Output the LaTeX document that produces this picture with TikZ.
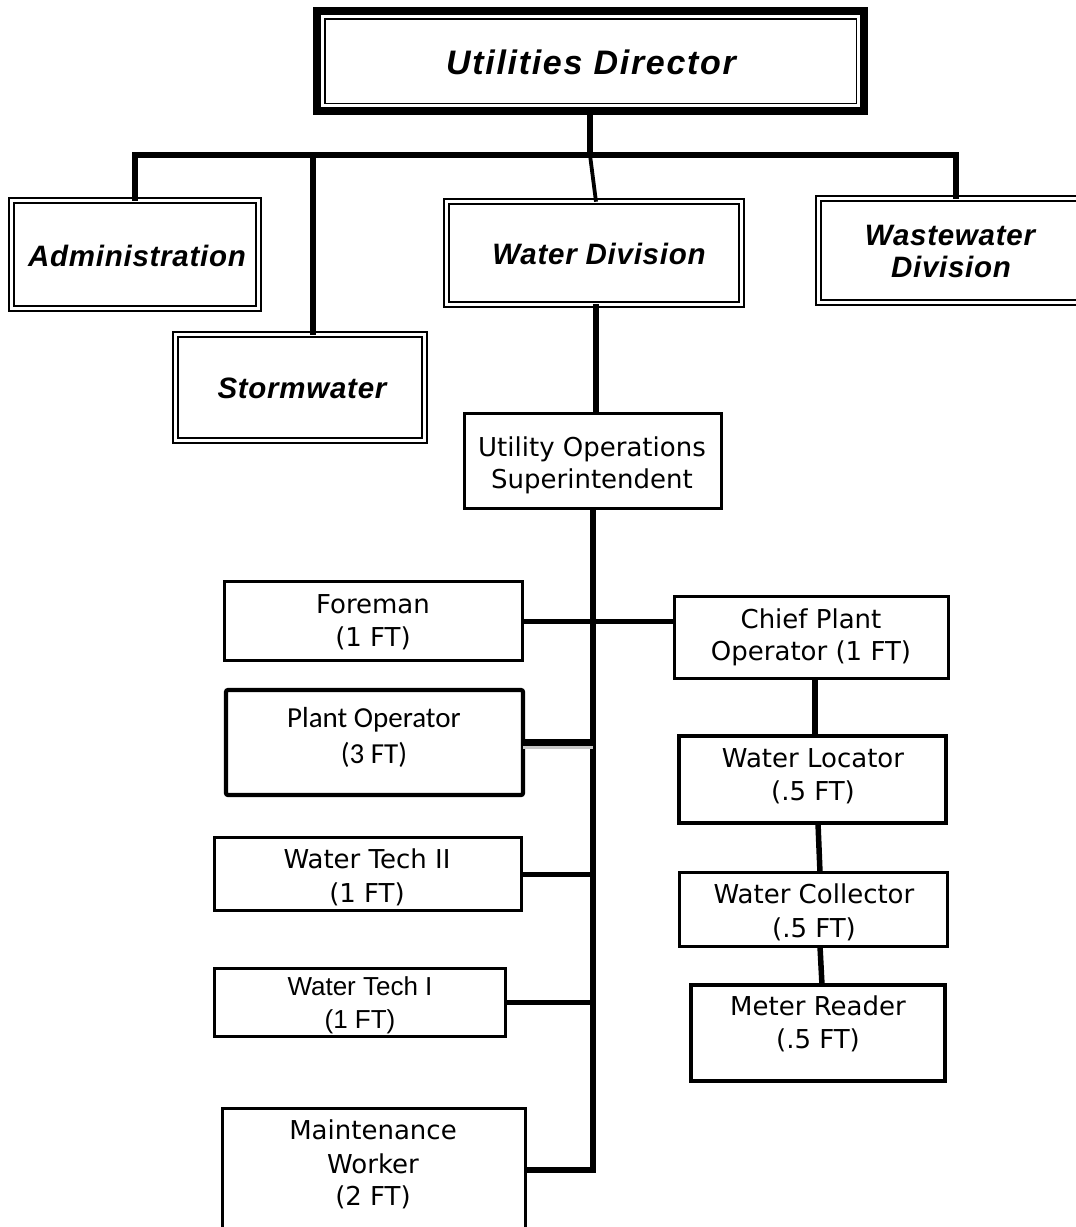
\documentclass[tikz,border=0pt]{standalone}
\usepackage{fontspec}
\setmainfont{DejaVu Sans}
\newfontfamily\headfont{Liberation Sans}[LetterSpace=2.5]
\newfontfamily\topfont{Liberation Sans}[LetterSpace=5]
\newfontfamily\calfont{Carlito}
\newfontfamily\arialfont{Liberation Sans}

% box from the centre line of its border: style, name, x1, y1, x2, y2
\newcommand\orgbox[6]{%
  \node[#1, minimum width={(#5-#3)*1pt}, minimum height={(#6-#4)*1pt}]
    (#2) at ({(#3+#5)/2},{(#4+#6)/2}) {};}

\begin{document}
\begin{tikzpicture}[x=1pt,y=-1pt,
  every node/.style={inner sep=0pt, outer sep=0pt},
  dbox/.style={draw, line width=2.5pt, double, double distance=2.5pt},
  pbox/.style={draw, line width=3.4pt},
  head/.style={font=\headfont\bfseries\itshape\fontsize{29.5}{34}\selectfont, anchor=base},
  lbl/.style={font=\fontsize{26}{32}\selectfont, anchor=base},
  link/.style={line width=5.5pt},
  thinlink/.style={line width=5pt},
  spine/.style={line width=6.5pt},
]
\path[use as bounding box, fill=white] (0,0) rectangle (1076,1227);
\clip (0,0) rectangle (1076,1227);

% ---- boxes ----
\orgbox{draw, line width=8pt}{dir}{317}{11}{864}{111}
\draw[line width=1.5pt] ([xshift=7.75pt,yshift=-7.75pt]dir.north west)
  rectangle ([xshift=-7.75pt,yshift=7.75pt]dir.south east);

\orgbox{dbox}{adm}{11.7}{200.7}{258.3}{308.3}
\orgbox{dbox}{storm}{175.7}{334.7}{424.3}{440.3}
\orgbox{dbox}{wd}{446.7}{201.7}{741.3}{304.3}
\orgbox{dbox}{ww}{818.7}{198.7}{1086.3}{302.3}

\orgbox{pbox}{uos}{464.7}{413.7}{721.3}{508.3}
\orgbox{pbox}{fore}{224.7}{581.7}{522.3}{660.3}
\orgbox{pbox, line width=4.2pt, rounded corners=2pt}{po}{226}{690}{523}{795}
\orgbox{pbox}{wt2}{214.7}{837.7}{521.3}{910.3}
\orgbox{pbox}{wt1}{214.7}{968.7}{505.3}{1036.3}
\orgbox{pbox}{mw}{222.7}{1108.7}{525.3}{1245}
\orgbox{pbox}{chief}{674.7}{596.7}{948.3}{678.3}
\orgbox{pbox, line width=3.8pt}{loc}{678.9}{735.9}{946.1}{823.1}
\orgbox{pbox}{col}{679.7}{872.7}{947.3}{946.3}
\orgbox{pbox, line width=3.8pt}{met}{690.9}{984.9}{945.1}{1081.1}

% ---- texts ----
\node[head, font=\topfont\bfseries\itshape\fontsize{34}{40}\selectfont] (dirT) at (591,74) {Utilities Director};
\node[head] (admT) at (137,266) {Administration};
\node[head] (stormT) at (302,398) {Stormwater};
\node[head] (wdT) at (599,264) {Water Division};
\node[head] (wwT1) at (950,245) {Wastewater};
\node[head] (wwT2) at (951,277) {Division};

\node[lbl] (uosT1) at (592,456) {Utility Operations};
\node[lbl] (uosT2) at (592,488) {Superintendent};
\node[lbl] (foreT1) at (373,613) {Foreman};
\node[lbl] (foreT2) at (373,646) {(1 FT)};
\node[lbl, font=\calfont\fontsize{29}{34}\selectfont] (poT1) at (374,727) {Plant Operator};
\node[lbl, font=\calfont\fontsize{29}{34}\selectfont] (poT2) at (374,763) {(3 FT)};
\node[lbl] (wt2T1) at (367,868) {Water Tech II};
\node[lbl] (wt2T2) at (367,902) {(1 FT)};
\node[lbl, font=\arialfont\fontsize{26}{32}\selectfont] (wt1T1) at (360,995) {Water Tech I};
\node[lbl, font=\arialfont\fontsize{26}{32}\selectfont] (wt1T2) at (360,1028) {(1 FT)};
\node[lbl] (mwT1) at (373,1139) {Maintenance};
\node[lbl] (mwT2) at (373,1173) {Worker};
\node[lbl] (mwT3) at (373,1205) {(2 FT)};
\node[lbl] (chiefT1) at (811,628) {Chief Plant};
\node[lbl] (chiefT2) at (811,660) {Operator (1 FT)};
\node[lbl] (locT1) at (813,767) {Water Locator};
\node[lbl] (locT2) at (813,800) {(.5 FT)};
\node[lbl] (colT1) at (814,903) {Water Collector};
\node[lbl] (colT2) at (814,937) {(.5 FT)};
\node[lbl] (metT1) at (818,1015) {Meter Reader};
\node[lbl] (metT2) at (818,1048) {(.5 FT)};

% ---- connectors ----
\coordinate (jD) at (590,155);
\coordinate (jS) at (313,155);
\coordinate (jR) at (956,155);
\coordinate (xw) at (596,0);
\coordinate (sp) at (593,0);
\coordinate (jM) at (593,1170);

% top tier bar with the drops to the divisions
\draw[link] (adm.north) |- (jR) -- (ww.north -| jR);
\draw[link] (jS) -- (storm.north -| jS);
\draw[spine] (dir.south -| jD) -- (jD);
\draw[line width=3.8pt] (jD) -- ([xshift=2pt]wd.north);
\draw[link] (wd.south -| xw) -- (uos.north -| xw);

% spine under the superintendent
\draw[spine] (uos.south -| sp) -- (jM) -- (mw.east |- jM);
\draw[thinlink] (fore.east) -- (fore.east -| chief.west);
\draw[black!22, line width=3pt] ([yshift=-5pt]po.east) -- ([yshift=-5pt]po.east -| sp);
\draw[spine] (po.east) -- (po.east -| sp);
\draw[thinlink] (wt2.east) -- (wt2.east -| sp);
\draw[thinlink] (wt1.east) -- (wt1.east -| sp);

% chain on the right
\draw[link] ([xshift=3.5pt]chief.south) -- ([xshift=2.5pt]loc.north);
\draw[link] ([xshift=5.5pt]loc.south) -- ([xshift=6.5pt]col.north);
\draw[link] ([xshift=6.5pt]col.south) -- ([xshift=4pt]met.north);
\end{tikzpicture}
\end{document}
